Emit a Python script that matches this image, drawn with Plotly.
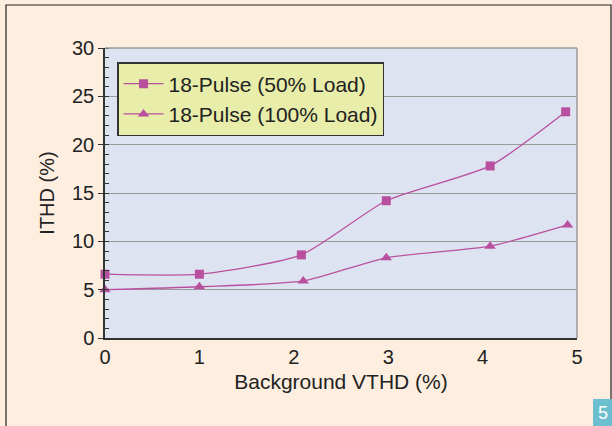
import plotly.graph_objects as go

x50 = [0, 1, 2.08, 2.98, 4.08, 4.88]
y50 = [6.6, 6.6, 8.6, 14.2, 17.8, 23.4]
x100 = [0, 1, 2.1, 2.98, 4.08, 4.9]
y100 = [5.0, 5.3, 5.9, 8.3, 9.5, 11.7]
names = ["18-Pulse (50% Load)", "18-Pulse (100% Load)"]

col = "#B9509F"
fig = go.Figure()
fig.add_trace(go.Scatter(x=x50, y=y50, name=names[0], mode="lines+markers",
                         line=dict(color=col, width=1.3, shape="spline", smoothing=0.6),
                         marker=dict(symbol="square", size=9, color=col), cliponaxis=False))
fig.add_trace(go.Scatter(x=x100, y=y100, name=names[1], mode="lines+markers",
                         line=dict(color=col, width=1.3, shape="spline", smoothing=0.6),
                         marker=dict(symbol="triangle-up", size=10, color=col), cliponaxis=False))

W, H = 612, 426
L, R, T, B = 105, 35, 48, 88
pw, ph = W - L - R, H - T - B
def px(x): return (x - L) / pw
def py(y): return (H - B - y) / ph

fig.update_layout(
    width=W, height=H,
    margin=dict(l=L, r=R, t=T, b=B),
    paper_bgcolor="#FDEEE0",
    plot_bgcolor="#DDE3F1",
    font=dict(family="Liberation Sans, Arial, sans-serif", size=20, color="#222"),
    showlegend=True,
    legend=dict(x=px(117), y=py(62), xanchor="left", yanchor="top",
                bgcolor="#E8EDAA", bordercolor="#333", borderwidth=1.5,
                font=dict(size=21), tracegroupgap=0, itemwidth=40),
    xaxis=dict(range=[0, 5], dtick=1, showgrid=False, zeroline=False,
               showline=True, linecolor="#333", linewidth=1.5, ticks="",
               title=dict(text="Background VTHD (%)", standoff=8, font=dict(size=21)),
               tickfont=dict(size=20), mirror=False),
    yaxis=dict(range=[0, 30], dtick=5, showgrid=True, gridcolor="#9A9A9A", gridwidth=1,
               zeroline=False, showline=True, linecolor="#333", linewidth=1.5,
               ticks="outside", ticklen=5, tickcolor="#333",
               minor=dict(dtick=1, ticks="inside", ticklen=4, tickcolor="#333", showgrid=False),
               title=dict(text="ITHD (%)", standoff=12, font=dict(size=20)), tickfont=dict(size=20)),
    shapes=[
        dict(type="rect", xref="paper", yref="paper", x0=px(6), x1=px(611), y0=py(5), y1=py(428),
             line=dict(color="#222", width=1.2), fillcolor="rgba(0,0,0,0)", layer="below"),
        dict(type="line", xref="paper", yref="paper", x0=0, x1=1, y0=1, y1=1,
             line=dict(color="#9A9A9A", width=1.5)),
        dict(type="line", xref="paper", yref="paper", x0=1, x1=1, y0=0, y1=1,
             line=dict(color="#9A9A9A", width=1.5)),
        dict(type="rect", xref="paper", yref="paper", x0=px(593), x1=px(612), y0=py(399), y1=py(426),
             line=dict(width=0), fillcolor="#6CBFCF"),
    ],
    annotations=[
        dict(text="5", xref="paper", yref="paper", x=px(602.5), y=py(412.5),
             showarrow=False, font=dict(color="white", size=18), xanchor="center", yanchor="middle"),
    ],
)
fig.write_html("out.html", config={"displayModeBar": False},
               post_script="document.body.style.margin='0';document.body.style.overflow='hidden';")
